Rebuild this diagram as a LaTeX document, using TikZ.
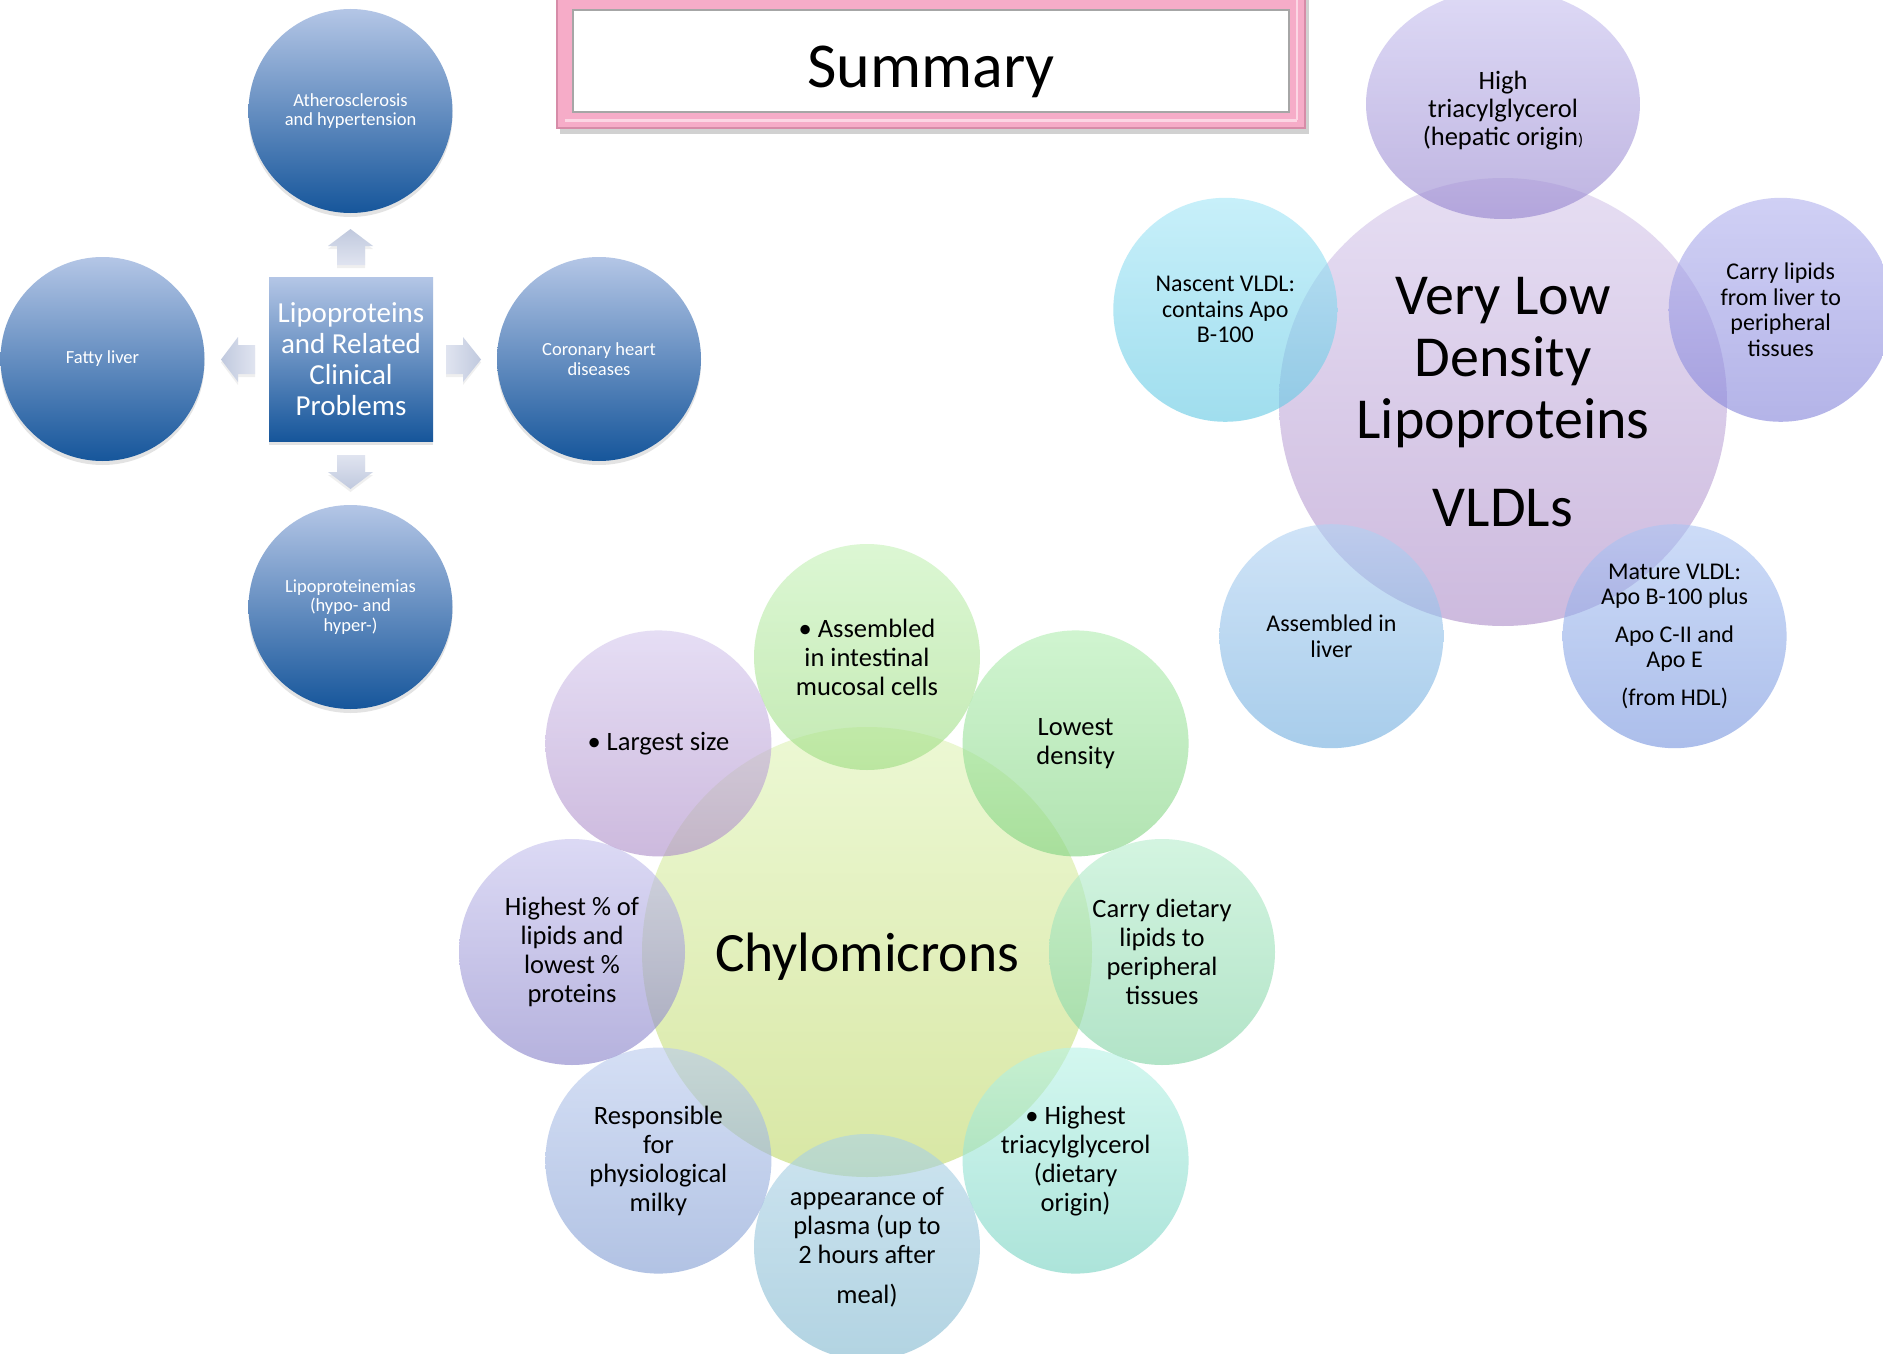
\documentclass[tikz,border=0pt]{standalone}
\usepackage{fontspec}
\setmainfont{Carlito}
\usetikzlibrary{shapes.geometric,shadows}
\definecolor{bTop}{RGB}{180,198,230}
\definecolor{bBot}{RGB}{22,86,155}
\definecolor{arLight}{RGB}{224,228,240}
\definecolor{arDark}{RGB}{192,201,222}
\definecolor{pinkF}{RGB}{246,172,200}
\definecolor{pinkD}{RGB}{214,140,168}
\definecolor{pinkL}{RGB}{252,214,228}
% chylomicrons
\definecolor{chT}{RGB}{236,248,212}
\definecolor{chB}{RGB}{216,231,164}
\definecolor{c1T}{RGB}{197,242,183}\definecolor{c1B}{RGB}{157,220,130}
\definecolor{c2T}{RGB}{177,238,177}\definecolor{c2B}{RGB}{127,210,127}
\definecolor{c3T}{RGB}{183,238,205}\definecolor{c3B}{RGB}{127,210,163}
\definecolor{c4T}{RGB}{183,243,230}\definecolor{c4B}{RGB}{117,210,193}
\definecolor{c5T}{RGB}{172,210,230}\definecolor{c5B}{RGB}{127,183,207}
\definecolor{c6T}{RGB}{185,202,238}\definecolor{c6B}{RGB}{127,155,210}
\definecolor{c7T}{RGB}{197,193,238}\definecolor{c7B}{RGB}{133,127,200}
\definecolor{c8T}{RGB}{213,200,238}\definecolor{c8B}{RGB}{172,140,200}
% VLDL
\definecolor{vT}{RGB}{230,222,243}
\definecolor{vB}{RGB}{205,186,222}
\definecolor{v1T}{RGB}{200,193,240}\definecolor{v1B}{RGB}{147,130,205}
\definecolor{v2T}{RGB}{177,177,238}\definecolor{v2B}{RGB}{130,130,217}
\definecolor{v3T}{RGB}{172,197,243}\definecolor{v3B}{RGB}{117,147,222}
\definecolor{v4T}{RGB}{177,210,243}\definecolor{v4B}{RGB}{110,172,222}
\definecolor{v5T}{RGB}{163,230,247}\definecolor{v5B}{RGB}{97,200,227}
\begin{document}
\begin{tikzpicture}[x=1pt,y=-1pt,
  bluecirc/.style={circle,minimum size=204pt,inner sep=0pt,top color=bTop,bottom color=bBot,
    text=white,align=center,font=\fontsize{18.5}{19.5}\selectfont,
    drop shadow={shadow xshift=0pt,shadow yshift=-4pt,opacity=0.22}},
  bluebox/.style={rectangle,minimum size=164pt,inner sep=0pt,top color=bTop,bottom color=bBot,
    text=white,align=center,font=\fontsize{29}{31}\selectfont,
    drop shadow={shadow xshift=0pt,shadow yshift=-4pt,opacity=0.22}},
  blockarrow/.style={drop shadow={shadow xshift=0pt,shadow yshift=-3pt,opacity=0.12}},
  bigcirc/.style 2 args={circle,minimum size=450pt,inner sep=0pt,top color=#1,bottom color=#2,align=center},
  chsat/.style 2 args={circle,minimum size=226pt,inner sep=0pt,top color=#1,bottom color=#2,
    fill opacity=0.6,text opacity=1,align=center,font=\fontsize{26.5}{29}\selectfont},
  vsat/.style 2 args={circle,minimum size=224pt,inner sep=0pt,top color=#1,bottom color=#2,
    fill opacity=0.6,text opacity=1,align=center,font=\fontsize{24}{25.5}\selectfont}]
\useasboundingbox (0,0) rectangle (1883,1354);
\fill[white] (0,0) rectangle (1883,1354);

% ---------- title ----------
\fill[black,opacity=0.18] (560,-10) rectangle (1309,134);
\fill[pinkF] (557,-10) rectangle (1305,128);
\draw[pinkL,line width=3pt] (565,120) -- (1297,120);
\draw[pinkL,line width=2pt] (1297,-10) -- (1297,120);
\draw[pinkD,line width=1.2pt] (557,-10) rectangle (1305,128);
\fill[white] (573,10) rectangle (1289,112);
\draw[black!35,line width=1.5pt] (573,10) rectangle (1289,112);
\node[anchor=base,font=\fontsize{64}{64}\selectfont,inner sep=0pt] (title) at (931,88) {Summary};

% ---------- left radial ----------
\node[bluebox] (lrc) at (351,359) {Lipoproteins\\and Related\\Clinical\\Problems};
\node[bluecirc] (ath) at (350.5,111) {Atherosclerosis\\and hypertension};
\node[bluecirc] (fat) at (102.5,359) {Fatty liver};
\node[bluecirc] (chd) at (599,359) {Coronary heart\\diseases};
\node[bluecirc] (lpe) at (350.5,607) {Lipoproteinemias\\(hypo- and\\hyper-)};

\path[blockarrow,top color=arDark,bottom color=arLight]
  (350.5,229) -- (373,246) -- (365,246) -- (365,265) -- (337,265) -- (337,246) -- (328,246) -- cycle;
\path[blockarrow,top color=arLight,bottom color=arDark]
  (350.5,489) -- (373,472) -- (365,472) -- (365,455) -- (337,455) -- (337,472) -- (328,472) -- cycle;
\path[blockarrow,left color=arDark,right color=arLight]
  (221,359.5) -- (238,337) -- (238,345) -- (255,345) -- (255,374) -- (238,374) -- (238,382) -- cycle;
\path[blockarrow,left color=arLight,right color=arDark]
  (481,359.5) -- (463,337) -- (463,345) -- (446,345) -- (446,374) -- (463,374) -- (463,382) -- cycle;

% ---------- VLDL ----------
\node[bigcirc={vT}{vB},minimum size=448pt,font=\fontsize{58}{62}\selectfont] (vldl) at (1503,402)
  {Very Low\\Density\\Lipoproteins\\[26pt]VLDLs};
\node[ellipse,minimum width=274pt,minimum height=230pt,inner sep=0pt,top color=v1T,bottom color=v1B,
  fill opacity=0.6] (vtop) at (1503,104) {};
\node[align=center,font=\fontsize{26.5}{28}\selectfont,inner sep=0pt] (vtoptxt) at (1503,111)
  {High\\triacylglycerol\\(hepatic origin{\fontsize{17}{17}\selectfont)}};
\node[vsat={v2T}{v2B}] (vcarry) at (1780.7,309.8) {Carry lipids\\from liver to\\peripheral\\tissues};
\node[vsat={v3T}{v3B}] (vmat) at (1674.6,636.2) {Mature VLDL:\\Apo B-100 plus\\[12pt]Apo C-II and\\Apo E\\[12pt](from HDL)};
\node[vsat={v4T}{v4B}] (vasm) at (1331.4,636.2) {Assembled in\\liver};
\node[vsat={v5T}{v5B}] (vnas) at (1225.3,309.8) {Nascent VLDL:\\contains Apo\\B-100};

% ---------- Chylomicrons ----------
\node[bigcirc={chT}{chB}] (chylo) at (867,952) {};
\node[font=\fontsize{55.5}{60}\selectfont,inner sep=0pt] (chylotxt) at (867,957) {Chylomicrons};
\node[chsat={c1T}{c1B}] (c1) at (867,657) {• Assembled\\in intestinal\\mucosal cells};
\node[chsat={c2T}{c2B}] (c2) at (1075.6,743.4) {Lowest\\density};
\node[chsat={c3T}{c3B}] (c3) at (1162,952) {Carry dietary\\lipids to\\peripheral\\tissues};
\node[chsat={c4T}{c4B}] (c4) at (1075.6,1160.6) {• Highest\\triacylglycerol\\(dietary\\origin)};
\node[chsat={c5T}{c5B}] (c5) at (867,1247) {appearance of\\plasma (up to\\2 hours after\\[11pt]meal)};
\node[chsat={c6T}{c6B}] (c6) at (658.4,1160.6) {Responsible\\for\\physiological\\milky};
\node[chsat={c7T}{c7B}] (c7) at (572,952) {Highest \% of\\lipids and\\lowest \%\\proteins};
\node[chsat={c8T}{c8B}] (c8) at (658.4,743.4) {• Largest size};
\end{tikzpicture}
\end{document}
